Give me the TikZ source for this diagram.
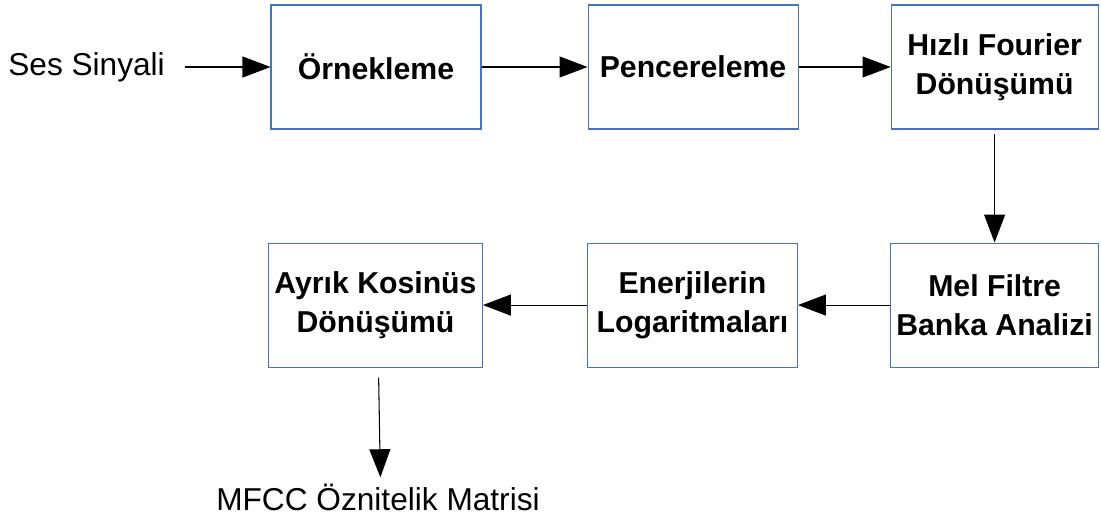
\documentclass[tikz,border=0pt]{standalone}
\usepackage{fontspec}
\setmainfont{Liberation Sans}
\usepackage{tikz}
\usetikzlibrary{positioning,arrows.meta}
\usepackage{xcolor}
\definecolor{boxblue}{RGB}{72,114,190}
\tikzset{
  >={Triangle[length=0.56cm,width=0.42cm]},
  flow/.style={->, line width=0.6pt},
}

\begin{document}
\begin{tikzpicture}[
  block/.style={draw=boxblue, line width=0.6pt, fill=white, minimum width=4.2cm, minimum height=2.48cm,
    align=center, font=\fontsize{17.2pt}{22pt}\selectfont\bfseries},
  sig/.style={inner sep=0pt, font=\fontsize{18pt}{21pt}\selectfont}
]
\useasboundingbox (0,0) rectangle (22.02,-10.42);
% upper row
\node[block] (ornek) at (7.52,-1.34) {Örnekleme};
\node[block, right=2.12cm of ornek] (pencere) {Pencereleme};
\node[block, minimum width=4.14cm, right=1.84cm of pencere] (fourier) {Hızlı Fourier\\Dönüşümü};
% lower row
\node[block, minimum width=4.14cm, below=2.26cm of fourier] (mel) {Mel Filtre\\Banka Analizi};
\node[block, left=1.84cm of mel] (enerji) {Enerjilerin\\Logaritmaları};
\node[block, left=2.08cm of enerji] (ayrik) {Ayrık Kosinüs\\Dönüşümü};
% input and output
\node[sig, anchor=west] (ses) at (0.16,-1.34) {Ses Sinyali};
\node[sig] (mfcc) at (7.56,-9.94) {MFCC Öznitelik Matrisi};

\draw[flow, shorten <=0.4cm] (ses) -- (ornek);
\draw[flow] (ornek) -- (pencere);
\draw[flow] (pencere) -- (fourier);
\draw[flow, shorten <=0.08cm] (fourier) -- (mel);
\draw[flow] (mel) -- (enerji);
\draw[flow] (enerji) -- (ayrik);
\draw[flow, shorten <=0.2cm, shorten >=0.12cm] ([xshift=0.06cm]ayrik.south) -- ([xshift=0.1cm]ayrik.south |- mfcc.north);
\end{tikzpicture}
\end{document}
